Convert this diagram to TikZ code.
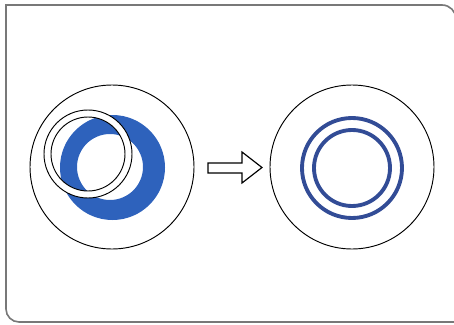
\documentclass[tikz,border=0pt]{standalone}
\usepackage{tikz}
\usetikzlibrary{calc,positioning}
\definecolor{ringblue}{RGB}{46,98,188}
\definecolor{sealblue}{RGB}{50,76,150}
\definecolor{framegray}{RGB}{120,120,120}

\begin{document}
\begin{tikzpicture}[x=0.3mm,y=0.3mm,
  outline/.style={draw=black,line width=.8pt},
  sealring/.style={draw=sealblue,line width=3.3pt}]
 \useasboundingbox(0,0)rectangle(454,324);
 % card frame, square at top left, rounded elsewhere
 \draw[framegray,line width=1.4pt](6,15)--(6,319)--(442,319)
   arc[start angle=90,end angle=0,radius=14]--(456,-10);
 \draw[framegray,line width=1.4pt](6,15)arc[start angle=180,end angle=270,radius=13]--(470,2);
 % before: offset rings over the blue one
 \draw[outline](112,157)circle(82);
 \fill[ringblue,even odd rule](112.5,156.5)circle(52.5)(110,157)circle(33);
 \path[outline,fill=white,even odd rule](88,170)circle(44)(88,170)circle(37);
 % hollow arrow
 \draw[line width=1pt,fill=white](208,151)--(242,151)--(242,141)--(262,156.5)
   --(242,172)--(242,161)--(208,161)--cycle;
 % after: concentric rings
 \draw[outline](352,157)circle(82);
 \draw[sealring](352,156)circle(50);
 \draw[sealring](352,156)circle(38);
\end{tikzpicture}
\end{document}
